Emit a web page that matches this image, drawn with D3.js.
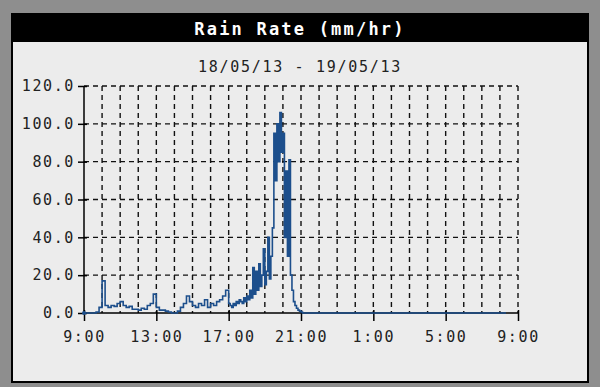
<!DOCTYPE html>
<html><head><meta charset="utf-8">
<script src="https://cdn.jsdelivr.net/npm/d3@7"></script>
<style>
html,body{margin:0;padding:0;background:#8e8e8e;}
svg{display:block;}
</style></head>
<body>
<script>
const chartTitle = "Rain Rate (mm/hr)";
const subTitle = "18/05/13 - 19/05/13";
// minutes after 09:00 on 18/05/13
const rainTimes = [
  0,10,20,30,40,50,60,70,80,90,100,110,120,130,140,150,160,170,180,190,
  200,210,220,230,240,250,260,270,280,290,300,310,320,330,340,350,360,370,380,390,
  400,410,420,430,440,450,460,470,480,
  485,490,495,500,505,510,515,520,525,530,535,540,545,550,555,560,565,570,575,580,
  585,590,595,600,605,610,615,620,625,630,635,640,645,650,655,660,665,670,675,680,
  685,690,695,700,705,710,715,720,725,730,
  1400
];
const rainValues = [
  0,0,0,0,0.5,3,17,4,3,4,3.5,5,6,4,3,3.5,2,2,1.5,2.5,
  2,4,5,10,3,1.5,1.5,1,0.5,0,0,1,3,5,9,6,4,3,5,4,
  7,3,5,4,6,7,9,12,5,
  4,3,5,4,6,5,7,6,5,8,6,9,7,12,8,24,10,22,12,26,
  14,20,34,15,22,40,18,30,45,95,70,100,80,106,85,95,40,75,30,81,
  20,12,6,4,2.5,1.5,1,0.5,0,0,
  0
];
const xTickMinutes = [0,240,480,720,960,1200,1440];
const xTickLabels = ["9:00","13:00","17:00","21:00","1:00","5:00","9:00"];
const yTickValues = [0,20,40,60,80,100,120];
const hourGrid = d3.range(60, 1440+1, 60);

const W = 600, H = 387;
const svg = d3.select("body").append("svg").attr("width", W).attr("height", H);

// panel
svg.append("rect").attr("x",0).attr("y",0).attr("width",W).attr("height",H).attr("fill","#8e8e8e");
svg.append("rect").attr("x",12).attr("y",14).attr("width",576).attr("height",368)
  .attr("fill","#ececec").attr("stroke","#000").attr("stroke-width",2);
svg.append("rect").attr("x",12).attr("y",14).attr("width",576).attr("height",28).attr("fill","#000");
svg.append("text").attr("x",300).attr("y",35).attr("text-anchor","middle")
  .attr("font-family","DejaVu Sans Mono").attr("font-weight","bold").attr("font-size",17)
  .attr("letter-spacing","2.2px").attr("fill","#fff").text(chartTitle);
svg.append("text").attr("x",300).attr("y",72).attr("text-anchor","middle")
  .attr("font-family","DejaVu Sans Mono").attr("font-size",15)
  .attr("letter-spacing","1.7px").attr("fill","#222").text(subTitle);

const x = d3.scaleLinear().domain([0,1440]).range([84,518]);
const y = d3.scaleLinear().domain([0,120]).range([313,86]);

// grid
const grid = svg.append("g").attr("stroke","#111").attr("stroke-width",1.4).attr("stroke-dasharray","5,4");
grid.selectAll("line.h").data(yTickValues.filter(v=>v>0)).join("line")
  .attr("x1",x(0)).attr("x2",x(1440)).attr("y1",d=>y(d)).attr("y2",d=>y(d));
grid.selectAll("line.v").data(hourGrid).join("line")
  .attr("y1",y(120)).attr("y2",y(0)).attr("x1",d=>x(d)).attr("x2",d=>x(d));

// axes
const fontFam = "DejaVu Sans Mono";
const yAxis = svg.append("g").attr("transform",`translate(${x(0)},0)`)
  .call(d3.axisLeft(y).tickValues(yTickValues).tickFormat(d3.format(".1f")).tickSize(6).tickPadding(3));
yAxis.select(".domain").attr("stroke","#000").attr("stroke-width",1.5).attr("d",`M0,${y(120)}V${y(0)}`);
yAxis.selectAll(".tick line").attr("stroke","#000").attr("stroke-width",1.5).attr("x1",3);
yAxis.selectAll(".tick text").attr("font-family",fontFam).attr("font-size",15)
  .attr("letter-spacing","1.6px").attr("fill","#222");

const xAxis = svg.append("g").attr("transform",`translate(0,${y(0)})`)
  .call(d3.axisBottom(x).tickValues(xTickMinutes).tickFormat((d,i)=>xTickLabels[i]).tickSize(8).tickPadding(10));
xAxis.select(".domain").attr("stroke","#000").attr("stroke-width",1.5).attr("d",`M${x(0)},0H${x(1440)}`);
xAxis.selectAll(".tick line").attr("stroke","#000").attr("stroke-width",1.5).attr("y1",-3);
xAxis.selectAll(".tick text").attr("font-family",fontFam).attr("font-size",15)
  .attr("letter-spacing","1.6px").attr("fill","#222");

// data line
const line = d3.line().x((d,i)=>x(rainTimes[i])).y(d=>y(d)).curve(d3.curveStepAfter);
svg.append("path").datum(rainValues).attr("d",line).attr("fill","none")
  .attr("stroke","#1d4f8c").attr("stroke-width",1.6).attr("stroke-linejoin","miter");
svg.append("circle").attr("cx",x(0)).attr("cy",y(0)).attr("r",2).attr("fill","#1d4f8c");
</script>
</body></html>
